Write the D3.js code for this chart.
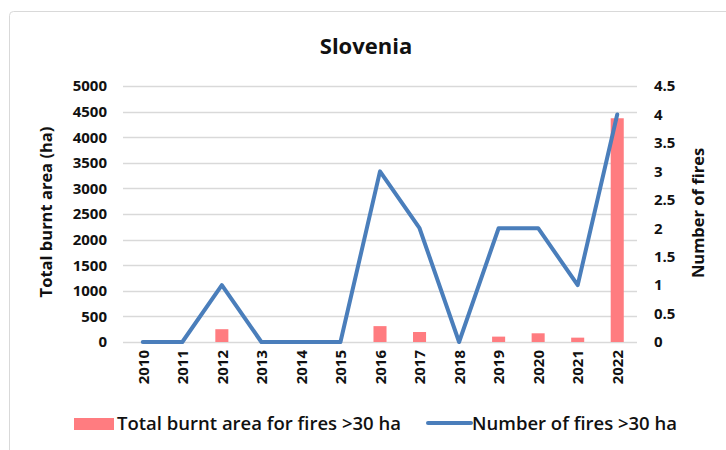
<!DOCTYPE html>
<html>
<head>
<meta charset="utf-8">
<script src="https://cdn.jsdelivr.net/npm/d3@7"></script>
<style>
  body { margin: 0; background: #fff; }
  text { font-family: "Open Sans", sans-serif; fill: #111; }
  .tick text { font-weight: 700; font-size: 15px; }
  .axis-title { font-weight: 700; font-size: 16.5px; }
  .legend text { font-weight: 600; font-size: 18.5px; }
</style>
</head>
<body>
<div id="chart"></div>
<script>
// chart data
const years = ['2010','2011','2012','2013','2014','2015','2016','2017','2018','2019','2020','2021','2022'];
const burntArea = [0, 0, 250, 0, 0, 0, 310, 195, 0, 105, 170, 85, 4370];
const fireCount = [0, 0, 1, 0, 0, 0, 3, 2, 0, 2, 2, 1, 4];
const leftTicks = [0, 500, 1000, 1500, 2000, 2500, 3000, 3500, 4000, 4500, 5000];
const rightTicks = [0, 0.5, 1, 1.5, 2, 2.5, 3, 3.5, 4, 4.5];

const width = 726, height = 450;
const m = {top: 86, right: 89, bottom: 108, left: 123};

const svg = d3.select('#chart').append('svg')
  .attr('width', width)
  .attr('height', height);

// chart frame
svg.append('rect')
  .attr('x', 9.5).attr('y', 11.5)
  .attr('width', width + 20).attr('height', height + 20)
  .attr('rx', 4)
  .attr('fill', 'none')
  .attr('stroke', '#d9d9d9');

const x = d3.scaleBand()
  .domain(years)
  .range([m.left, width - m.right])
  .paddingInner(0.67)
  .paddingOuter(0.335);

const xc = d3.scalePoint()
  .domain(years)
  .range([m.left, width - m.right])
  .padding(0.5);

const yL = d3.scaleLinear().domain([0, 5000]).range([height - m.bottom, m.top]);
const yR = d3.scaleLinear().domain([0, 4.5]).range([height - m.bottom, m.top]);

// gridlines
svg.append('g')
  .selectAll('line')
  .data(leftTicks)
  .join('line')
  .attr('x1', m.left).attr('x2', width - m.right)
  .attr('y1', d => Math.round(yL(d)) + 0.5)
  .attr('y2', d => Math.round(yL(d)) + 0.5)
  .attr('stroke', '#d9d9d9')
  .attr('stroke-width', 1.5);

// left axis
svg.append('g')
  .attr('transform', 'translate(' + (m.left - 10) + ',0)')
  .call(d3.axisLeft(yL).tickValues(leftTicks).tickSize(0).tickPadding(6)
    .tickFormat(d3.format('d')))
  .call(g => g.select('.domain').remove());

// right axis
svg.append('g')
  .attr('transform', 'translate(' + (width - m.right + 10) + ',0)')
  .call(d3.axisRight(yR).tickValues(rightTicks).tickSize(0).tickPadding(7)
    .tickFormat(d3.format('~g')))
  .call(g => g.select('.domain').remove());

// bottom axis (rotated year labels)
svg.append('g')
  .attr('transform', 'translate(0,' + (height - m.bottom) + ')')
  .call(d3.axisBottom(xc).tickSize(0))
  .call(g => g.select('.domain').remove())
  .selectAll('.tick text')
  .attr('transform', 'rotate(-90)')
  .attr('text-anchor', 'end')
  .attr('dy', '0.35em')
  .attr('x', -8)
  .attr('y', 0);

// bars
svg.append('g')
  .selectAll('rect')
  .data(burntArea)
  .join('rect')
  .attr('x', (d, i) => x(years[i]))
  .attr('width', x.bandwidth())
  .attr('y', d => yL(d))
  .attr('height', d => yL(0) - yL(d))
  .attr('fill', '#ff7c80');

// line
const line = d3.line()
  .x((d, i) => xc(years[i]))
  .y(d => yR(d));

svg.append('path')
  .datum(fireCount)
  .attr('d', line)
  .attr('fill', 'none')
  .attr('stroke', '#4a7ebb')
  .attr('stroke-width', 4)
  .attr('stroke-linejoin', 'round')
  .attr('stroke-linecap', 'round');

// title
svg.append('text')
  .attr('x', 366).attr('y', 54)
  .attr('text-anchor', 'middle')
  .style('font-size', '22px')
  .style('font-weight', 700)
  .text('Slovenia');

// axis titles
svg.append('text')
  .attr('class', 'axis-title')
  .attr('transform', 'translate(52,' + ((m.top + height - m.bottom) / 2 - 2) + ') rotate(-90)')
  .attr('text-anchor', 'middle')
  .text('Total burnt area (ha)');

svg.append('text')
  .attr('class', 'axis-title')
  .attr('transform', 'translate(704,' + ((m.top + height - m.bottom) / 2 - 1) + ') rotate(-90)')
  .attr('text-anchor', 'middle')
  .text('Number of fires');

// legend
const legend = svg.append('g').attr('class', 'legend');
legend.append('rect')
  .attr('x', 74).attr('y', 418)
  .attr('width', 40).attr('height', 12)
  .attr('fill', '#ff7c80');
legend.append('text')
  .attr('x', 117).attr('y', 424)
  .attr('dy', '0.35em')
  .text('Total burnt area for fires >30 ha');
legend.append('line')
  .attr('x1', 428).attr('x2', 471)
  .attr('y1', 423).attr('y2', 423)
  .attr('stroke', '#4a7ebb')
  .attr('stroke-width', 4)
  .attr('stroke-linecap', 'round');
legend.append('text')
  .attr('x', 472).attr('y', 424)
  .attr('dy', '0.35em')
  .text('Number of fires >30 ha');
</script>
</body>
</html>
